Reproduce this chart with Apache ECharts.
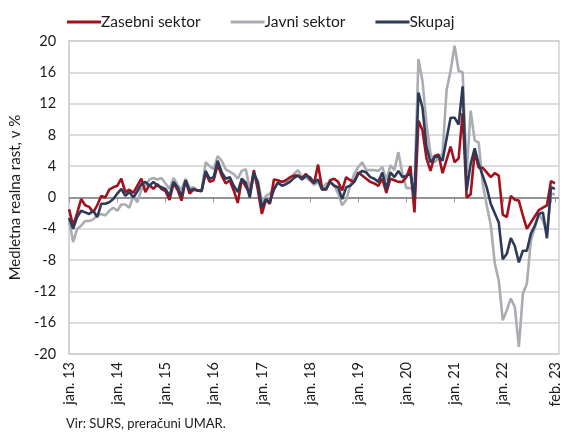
<!DOCTYPE html>
<html>
<head>
<meta charset="utf-8">
<script src="https://cdn.jsdelivr.net/npm/echarts@6/dist/echarts.min.js"></script>
<style>
  html, body { margin: 0; padding: 0; background: #fff; }
  #main { width: 567px; height: 433px; }
</style>
</head>
<body>
<div id="main"></div>
<script>
// months and years for the category axis (jan. 13 .. feb. 23)
var monthNames = ['jan.', 'feb.', 'mar.', 'apr.', 'maj', 'jun.', 'jul.', 'avg.', 'sep.', 'okt.', 'nov.', 'dec.'];
var years = ['13', '14', '15', '16', '17', '18', '19', '20', '21', '22', '23'];

// y-axis ticks
var yTicks = [-20, -16, -12, -8, -4, 0, 4, 8, 12, 16, 20];

var zasebni = [
    -1.5, -3.6, -2.0, -0.2, -1.0, -1.2, -1.9, -1.0, 0.2, 0.0, 1.0, 1.3,
    1.5, 2.4, 0.7, 1.0, 0.6, 1.5, 2.4, 0.7, 1.6, 1.1, 1.7, 1.1,
    0.8, -0.3, 1.8, 1.0, -0.4, 2.2, 0.5, 1.0, 0.9, 0.8, 3.2, 2.0,
    2.2, 4.2, 2.8, 1.8, 2.2, 0.9, -0.7, 2.3, 1.4, 0.5, 3.5, 1.0,
    -2.1, -0.3, -0.8, 2.3, 2.2, 2.0, 2.2, 2.6, 2.8, 2.8, 2.5, 3.0,
    2.3, 1.8, 4.2, 1.2, 1.0, 2.2, 2.4, 2.0, 0.9, 2.6, 2.2, 2.0,
    3.2, 2.8, 2.4, 2.0, 1.8, 1.5, 2.4, 0.6, 2.4, 2.2, 2.0, 2.0,
    2.6, 4.0, -1.9, 9.8, 8.6, 5.0, 3.4, 5.3, 5.5, 3.1, 4.8, 6.5,
    4.5, 5.0, 10.8, 0.0, 0.4, 5.8, 3.8, 3.8, 3.2, 2.6, 3.1, 2.8,
    -2.2, -2.5, 0.2, -0.3, -0.4, -2.3, -4.0, -3.2, -2.4, -1.6, -1.3, -1.0,
    2.1, 1.8
];

var javni = [
    -2.9, -5.7, -4.0, -3.6, -3.0, -3.0, -2.8, -2.3, -2.1, -2.3, -1.7, -1.3,
    -1.7, -0.9, -0.9, -1.3, 0.2, -0.6, 1.0, 1.5, 2.3, 2.5, 2.3, 2.5,
    1.8, 1.1, 2.5, 1.6, 1.0, 2.4, 1.2, 1.3, 0.9, 0.8, 4.5, 4.0,
    3.6, 5.3, 4.7, 3.6, 3.3, 3.0, 2.4, 3.4, 3.6, 1.0, 2.6, 2.2,
    -0.5, 0.2, 0.5, 1.2, 2.0, 2.0, 2.0, 2.4, 3.0, 3.5, 2.6, 2.5,
    2.2, 1.6, 2.0, 1.0, 1.8, 1.9, 1.6, 0.5, -1.0, -0.3, 1.5, 3.0,
    3.9, 4.5, 3.5, 3.5, 3.5, 3.4, 3.9, 2.2, 4.1, 3.5, 5.8, 3.0,
    1.2, 1.2, 1.2, 17.7, 14.9, 9.4, 5.6, 4.5, 5.0, 5.6, 13.7, 16.2,
    19.4, 16.2, 16.0, 3.1, 11.1, 7.3, 7.0, 1.8, -1.0, -3.5, -8.4, -10.6,
    -15.7, -14.4, -12.9, -14.0, -19.1, -12.3, -11.0, -5.5, -3.8, -2.1, -3.0, -4.5,
    0.5, 0.4
];

var skupaj = [
    -2.6, -4.0, -2.5, -1.7, -1.9, -2.1, -1.7, -2.5, -0.8, -0.8, -0.6, -0.2,
    0.5, 1.1, 0.2, 0.7, 0.0, 0.8, 1.7, 2.0, 1.5, 2.0, 1.5, 1.3,
    1.1, 0.2, 2.0, 1.3, 0.2, 2.2, 0.9, 1.1, 0.9, 0.9, 3.4, 2.4,
    2.6, 4.7, 3.2, 2.4, 2.6, 1.5, 0.7, 2.4, 1.9, 0.0, 3.2, 1.9,
    -1.3, -0.2, -0.6, 1.0, 1.9, 1.5, 1.7, 2.0, 2.5, 2.8, 2.3, 2.8,
    2.6, 1.9, 2.3, 1.0, 1.1, 2.0, 1.5, 1.3, -0.2, 1.3, 1.5, 2.0,
    3.0, 3.4, 3.2, 2.6, 2.4, 2.0, 3.2, 1.1, 3.2, 2.6, 3.4, 2.6,
    2.8, 3.0, 0.0, 13.4, 11.5, 6.5, 4.5, 5.1, 5.3, 4.7, 7.5, 10.2,
    10.2, 9.3, 14.2, 0.9, 4.3, 6.3, 4.3, 2.8, 1.3, -0.8, -2.0, -3.2,
    -7.9, -7.2, -5.2, -6.2, -8.3, -6.8, -6.8, -4.6, -3.6, -2.1, -1.9, -5.2,
    1.3, 1.1
];

var categories = [];
for (var y = 0; y < years.length; y++) {
    for (var m = 0; m < 12; m++) {
        if (categories.length < zasebni.length) {
            categories.push(monthNames[m] + ' ' + years[y]);
        }
    }
}
categories.push(''); // a little room after the last month

var lastIdx = zasebni.length - 1;
// labels: every january except the last one, plus the final month
function showLabel(idx) {
    if (idx === lastIdx) return true;
    return idx % 12 === 0 && idx < lastIdx - 1;
}
function showTick(idx) {
    return idx % 12 === 0 || idx === lastIdx;
}

var font = 'Lato';
var gridColor = '#cfd0d2';

var option = {
    animation: false,
    textStyle: { fontFamily: font },
    legend: {
        left: 62,
        top: 9,
        icon: 'rect',
        itemWidth: 34,
        itemHeight: 3,
        itemGap: 30,
        textStyle: { fontSize: 15.5, color: '#1a1a1a', fontFamily: font, padding: [0, 0, 0, -5] },
        data: ['Zasebni sektor', 'Javni sektor', 'Skupaj']
    },
    grid: {
        left: 68,
        right: 8,
        top: 41,
        bottom: 79,
        show: true,
        borderColor: gridColor,
        borderWidth: 1.5
    },
    xAxis: {
        type: 'category',
        boundaryGap: false,
        data: categories,
        axisLine: { show: true, lineStyle: { color: gridColor, width: 1.5 } },
        axisTick: {
            show: true,
            interval: showTick,
            length: 5,
            lineStyle: { color: '#9a9a9a' }
        },
        axisLabel: {
            interval: showLabel,
            hideOverlap: false,
            rotate: 90,
            margin: 8,
            fontSize: 14.5,
            color: '#1a1a1a',
            fontFamily: font
        },
        splitLine: { show: false }
    },
    yAxis: {
        type: 'value',
        min: yTicks[0],
        max: yTicks[yTicks.length - 1],
        interval: 4,
        name: 'Medletna realna rast, v %',
        nameLocation: 'middle',
        nameGap: 46,
        nameTextStyle: { fontSize: 15, color: '#1a1a1a', fontFamily: font },
        axisLine: { show: true, lineStyle: { color: gridColor, width: 1.5 } },
        axisTick: { show: false },
        axisLabel: { fontSize: 14.5, color: '#1a1a1a', margin: 13, fontFamily: font },
        splitLine: { lineStyle: { color: gridColor, width: 1.5 } }
    },
    series: [
        {
            name: 'Javni sektor',
            type: 'line',
            data: javni,
            symbol: 'none',
            lineStyle: { color: '#a9adb2', width: 2.6 },
            itemStyle: { color: '#a9adb2' },
            z: 2,
            markLine: {
                silent: true,
                symbol: 'none',
                label: { show: false },
                lineStyle: { color: '#7f7f7f', width: 1.5, type: 'solid' },
                data: [{ yAxis: 0 }],
                z: 1
            }
        },
        {
            name: 'Zasebni sektor',
            type: 'line',
            data: zasebni,
            symbol: 'none',
            lineStyle: { color: '#a3111e', width: 2.6 },
            itemStyle: { color: '#a3111e' },
            z: 3
        },
        {
            name: 'Skupaj',
            type: 'line',
            data: skupaj,
            symbol: 'none',
            lineStyle: { color: '#2e3a57', width: 2.6 },
            itemStyle: { color: '#2e3a57' },
            z: 4
        }
    ],
    graphic: [
        {
            type: 'text',
            left: 66,
            top: 417,
            style: { text: 'Vir: SURS, preračuni UMAR.', font: '13px Lato', fill: '#1a1a1a' }
        }
    ]
};

var myChart = echarts.init(document.getElementById('main'));
myChart.setOption(option);
</script>
</body>
</html>
